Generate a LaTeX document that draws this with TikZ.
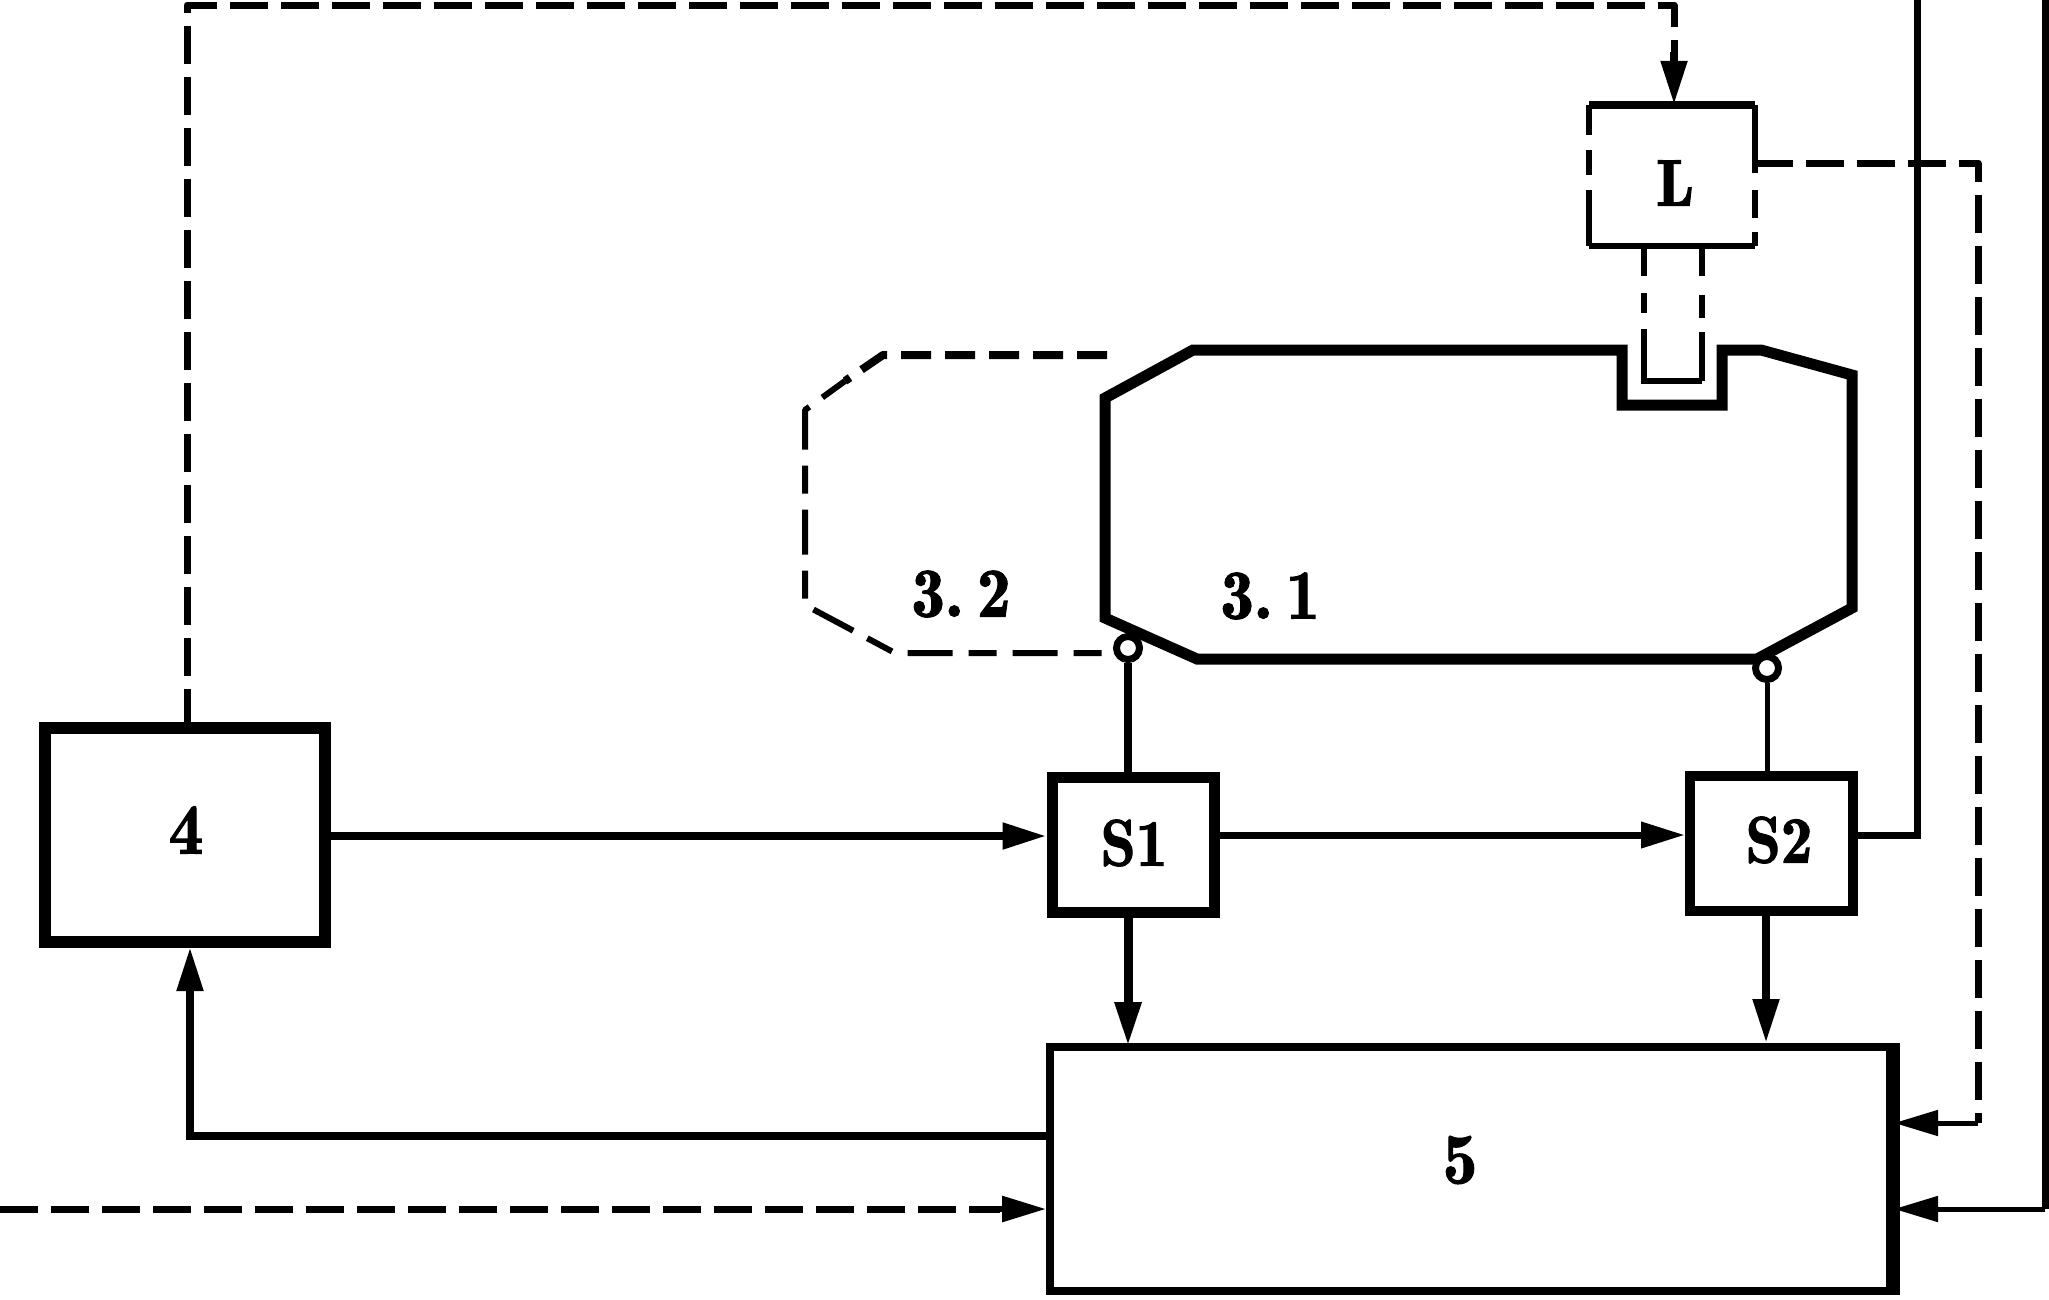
\documentclass[tikz,border=0pt]{standalone}
\usepackage{fontspec}
\usetikzlibrary{arrows.meta,calc}
\newfontfamily\labfont[FakeBold=1.6]{Latin Modern Roman Demi}
\newcommand{\lab}[2]{\fontsize{#1}{#1}\labfont\scalebox{0.96}[1]{#2}}
\tikzset{
  x=1pt,y=-1pt,
  box/.style={draw,rectangle,inner sep=0pt,line join=miter,fill=none},
  dashwire/.style={line width=#1,line join=round,dash pattern=on 38pt off 13pt},
  dashwire/.default=8pt,
  headL/.style={-{Triangle[length=44pt,width=25pt]}},
  txt/.style={inner sep=0pt,outer sep=0pt,anchor=center},
}
\begin{document}
\begin{tikzpicture}
\useasboundingbox (0,0) rectangle (2049,1299);
% boxes
\node[box,line width=12pt,minimum width=280pt,minimum height=214pt] (four) at (184.5,835) {};
\node[txt] at (186,830) {\lab{72}{4}};
\node[box,line width=11pt,minimum width=162pt,minimum height=134.5pt] (sone) at (1133,845) {};
\node[txt] at (1134,843) {\lab{66}{S1}};
\node[box,line width=10pt,minimum width=163pt,minimum height=135pt] (stwo) at (1771.5,843.5) {};
\node[txt] at (1779,840) {\lab{66}{S2}};
\node[box,line width=8pt,minimum width=840pt,minimum height=244pt] (five) at (1470,1169) {};
\draw[line width=11pt,line cap=square] (five.north east) -- (five.south east);
\node[txt] at (1460,1160) {\lab{72}{5}};
% level box L
\node[inner sep=0pt,minimum width=165pt,minimum height=141pt] (ell) at (1672,175.5) {};
\node[txt] at (1675,183) {\lab{66}{L}};
\draw[line width=8pt,line cap=square] (ell.north west) -- (ell.north east);
\draw[line width=6pt] (ell.south west) -- (ell.south east);
\draw[line width=6pt,dash pattern=on 30pt off 15pt on 25pt off 15pt on 60pt] (ell.north west) -- (ell.south west);
\draw[line width=6pt,dash pattern=on 68pt off 17pt on 28pt off 14pt on 20pt] (ell.north east) -- (ell.south east);
% vessel 3.1
\draw[line width=11pt,line join=miter]
  (1193,350) -- (1622,350) -- (1622,405) -- (1722,405) -- (1722,350) -- (1761,350)
  -- (1852,375) -- (1852,608) -- (1757,659) -- (1197,659) -- (1105,618) -- (1105,398) -- cycle;
% phantom 3.2
\draw[line width=8pt,line join=round,dash pattern=on 30pt off 14pt]
  (1107,355) -- (883,355) -- (845,381);
\draw[line width=6pt,line join=round,dash pattern=on 28pt off 16pt on 45pt off 16pt]
  (845,381) -- (805,410) -- (805,605) -- (895,653) -- (1128,653);
% tube of L
\coordinate (tubeL) at (1644,249);
\coordinate (tubeR) at (1702,249);
\draw[line width=6pt,line join=miter,dash pattern=on 27pt off 17pt on 20pt off 16pt on 200pt]
  (tubeL) -- (1644,381) -- (1702,381);
\draw[line width=6pt,dash pattern=on 27pt off 19pt on 23pt off 14pt on 200pt]
  (tubeR) -- (1702,381);
\node[txt] (lthree) at (961,594) {\lab{70}{3.\hspace{14pt}2}};
\node[txt] (lone) at (1270,596) {\lab{70}{3.\hspace{14pt}1}};
% sensor points
\node[circle,draw,fill=white,line width=7pt,minimum size=23pt,inner sep=0pt] (pa) at (1128,648) {};
\node[circle,draw,fill=white,line width=7pt,minimum size=23pt,inner sep=0pt] (pb) at (1767,668) {};
% connectors
\draw[line width=8pt] (pa.south) -- (pa.south |- sone.north);
\draw[line width=5pt] (pb.south) -- (pb.south |- stwo.north);
\coordinate (top4) at (187,5);
\coordinate (topL) at (1674,5);
\draw[dashwire=7pt] (187,727) -- (187,5) -- (topL) -- (1674,60);
\draw[headL,line width=8pt] (1674,52) -- (topL |- ell.north);
\coordinate (rL) at (1978,163);
\draw[dashwire=7pt] (ell.east |- rL) -- (rL) -- (1978,1123);
\draw[line width=5pt,line join=miter] (1978,1123) -- (1940,1123);
\draw[headL,line width=5pt] (1940,1123) -- (five.east |- 1942,1123);
\coordinate (r1) at (1917,835);
\draw[line width=7pt,line join=miter] (stwo.east |- r1) -- (r1) -- (1917,0);
\coordinate (r2) at (2045,1209);
\draw[line width=7pt] (2045,0) -- (r2);
\draw[line width=5pt,headL] (r2) -- (five.east |- r2);
\draw[line width=8pt,headL] (four.east |- 0,836) -- (sone.west |- 0,836);
\draw[line width=7pt,headL] (sone.east |- 0,835) -- (stwo.west |- 0,835);
\draw[line width=9pt,headL] (1128,915) -- (1128,1046);
\draw[line width=8pt,headL] (stwo.south -| 1766,0) -- (five.north -| 1766,0);
\draw[line width=8pt,line join=miter,headL]
  (five.west |- 0,1136) -- (190,1136) -- (190,947);
\coordinate (in5) at (0,1209);
\draw[dashwire=7pt] (in5) -- (1000,1209);
\draw[headL,line width=6pt] (1000,1209) -- (five.west |- in5);
\end{tikzpicture}
\end{document}
